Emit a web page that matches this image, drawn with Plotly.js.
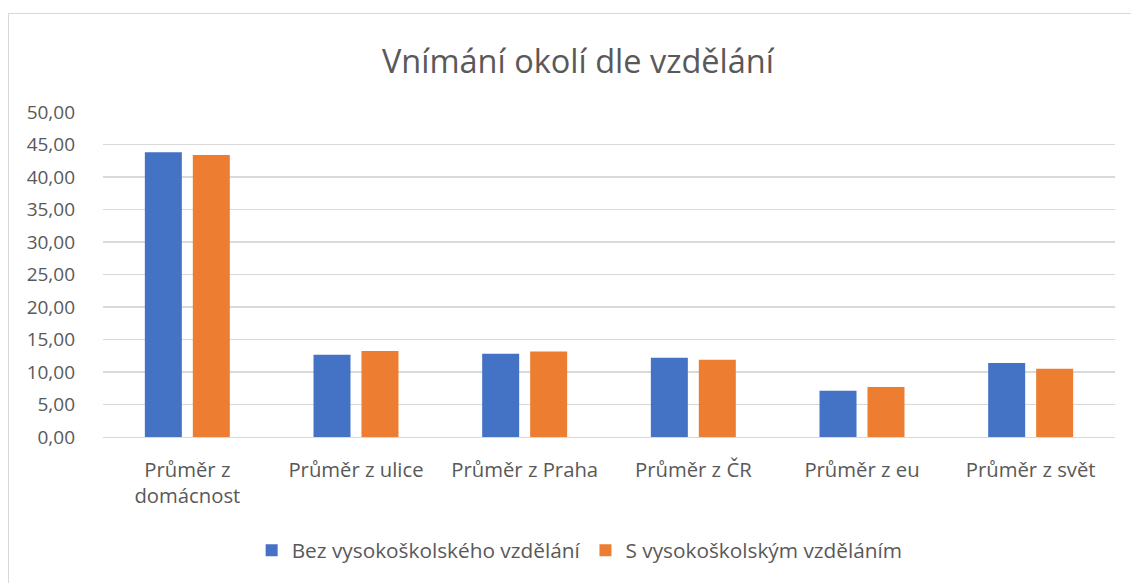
<!DOCTYPE html>
<html>
<head>
<meta charset="utf-8">
<script src="https://cdn.plot.ly/plotly-3.0.1.min.js"></script>
<style>
html,body{margin:0;padding:0;background:#fff;}
#wrap{position:relative;width:1131px;height:583px;}
#chart{position:absolute;left:0;top:0;width:1131px;height:583px;}
#frame{position:absolute;left:8px;top:13px;width:1200px;height:700px;border-left:1.5px solid #d9d9d9;border-top:1.5px solid #d9d9d9;pointer-events:none;}
</style>
</head>
<body>
<div id="wrap"><div id="chart"></div><div id="frame"></div></div>
<script>
const categories = ["Průměr z<br>domácnost", "Průměr z ulice", "Průměr z Praha", "Průměr z ČR", "Průměr z eu", "Průměr z svět"];
const seriesNames = ["Bez vysokoškolského vzdělání", "S vysokoškolským vzděláním"];
const bezVS = [43.8, 12.65, 12.8, 12.2, 7.1, 11.4];
const sVS = [43.4, 13.25, 13.15, 11.9, 7.7, 10.5];
const yTicks = [0, 5, 10, 15, 20, 25, 30, 35, 40, 45, 50];

const fontFam = "'Open Sans', 'Liberation Sans', sans-serif";
const traces = [
  {type: 'bar', name: seriesNames[0], x: categories, y: bezVS, marker: {color: '#4472c4'}},
  {type: 'bar', name: seriesNames[1], x: categories, y: sVS, marker: {color: '#ed7d31'}}
];
const layout = {
  width: 1131, height: 583,
  paper_bgcolor: 'rgba(0,0,0,0)', plot_bgcolor: '#fff',
  margin: {l: 103, r: 16, t: 112, b: 146},
  barmode: 'group', bargap: 0.431, bargroupgap: 0.229,
  font: {family: fontFam, color: '#595959', size: 17},
  title: {text: 'Vnímání okolí dle vzdělání', font: {family: fontFam, size: 32.5, color: '#595959'}, x: 0.511, xanchor: 'center', y: 0.895, yanchor: 'middle'},
  xaxis: {tickfont: {size: 20.3, color: '#595959'}, showgrid: false, showline: true, linecolor: '#d9d9d9', linewidth: 1.3, ticks: '', ticklabelstandoff: 14},
  yaxis: {range: [0, 50], tickvals: yTicks, ticktext: yTicks.map(v => v.toFixed(2).replace('.', ',')), tickfont: {size: 19, color: '#595959'}, gridcolor: '#d9d9d9', gridwidth: 1.3, zeroline: false, ticks: '', ticklen: 0, showline: false, ticklabelstandoff: 27},
  legend: {orientation: 'h', x: 0.471, xanchor: 'center', y: -0.35, yanchor: 'middle', font: {size: 20.8, color: '#595959'}, traceorder: 'normal', itemwidth: 30},
  showlegend: true
};
Plotly.newPlot('chart', traces, layout, {displayModeBar: false, staticPlot: true});
</script>
</body>
</html>
